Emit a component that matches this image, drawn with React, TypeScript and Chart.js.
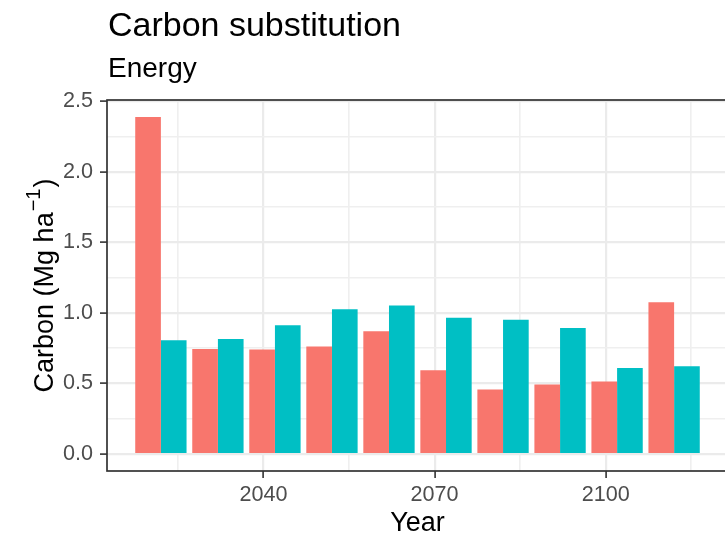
import React, { useEffect, useRef } from "react";
import { Chart, registerables } from "chart.js";

Chart.register(...registerables);

// ---- data ----
const years = [2022, 2032, 2042, 2052, 2062, 2072, 2082, 2092, 2102, 2112];
const seriesA = [2.39, 0.745, 0.742, 0.763, 0.87, 0.594, 0.458, 0.493, 0.514, 1.077];
const seriesB = [0.807, 0.815, 0.914, 1.027, 1.053, 0.967, 0.953, 0.894, 0.61, 0.622];
const seriesNames = ["Series A", "Series B"];
const yMajorTicks = [0, 0.5, 1, 1.5, 2, 2.5];
const yMinorTicks = [0.25, 0.75, 1.25, 1.75, 2.25];
const xMajorTicks = [2040, 2070, 2100];
const xMinorTicks = [2025, 2055, 2085, 2115];
const titleText = "Carbon substitution";
const subtitleText = "Energy";
const xTitle = "Year";
const yTitleMain = "Carbon (Mg ha";
const yTitleSup = "\u22121";
const yTitleEnd = ")";

const FONT = '"Liberation Sans", Arial, Helvetica, sans-serif';
const RED = "#F8766D";
const TEAL = "#00BFC4";

const isIn = (arr: number[], v: number) => arr.some((a) => Math.abs(a - v) < 1e-6);

const decor = {
  id: "decor",
  afterDraw(chart: any) {
    const { ctx, chartArea } = chart;
    const { left, top, right, bottom } = chartArea;
    ctx.save();
    // panel border
    ctx.strokeStyle = "#333333";
    ctx.lineWidth = 1.7;
    ctx.strokeRect(left, top, right - left, bottom - top);
    // title & subtitle
    ctx.fillStyle = "#000000";
    ctx.textBaseline = "alphabetic";
    ctx.textAlign = "left";
    ctx.font = `34px ${FONT}`;
    ctx.fillText(titleText, left + 1, 36);
    ctx.font = `28px ${FONT}`;
    ctx.fillText(subtitleText, left + 1, 77);
    // y-axis title with superscript
    const mainFont = `27px ${FONT}`;
    const supFont = `20px ${FONT}`;
    ctx.font = mainFont;
    const w1 = ctx.measureText(yTitleMain).width;
    const w3 = ctx.measureText(yTitleEnd).width;
    ctx.font = supFont;
    const w2 = ctx.measureText(yTitleSup).width;
    const total = w1 + w2 + w3 + 2;
    const cy = (top + bottom) / 2;
    ctx.translate(53, cy);
    ctx.rotate(-Math.PI / 2);
    let x = -total / 2;
    ctx.font = mainFont;
    ctx.fillText(yTitleMain, x, 0);
    x += w1 + 1;
    ctx.font = supFont;
    ctx.fillText(yTitleSup, x, -13);
    x += w2 + 1;
    ctx.font = mainFont;
    ctx.fillText(yTitleEnd, x, 0);
    ctx.restore();
  },
};

export default function App() {
  const ref = useRef<HTMLCanvasElement | null>(null);

  useEffect(() => {
    if (!ref.current) return;
    const chart = new Chart(ref.current, {
      type: "bar",
      data: {
        datasets: [
          {
            label: seriesNames[0],
            data: years.map((y, i) => ({ x: y, y: seriesA[i] })),
            backgroundColor: RED,
            borderWidth: 0,
            barPercentage: 1,
            categoryPercentage: 0.9,
          },
          {
            label: seriesNames[1],
            data: years.map((y, i) => ({ x: y, y: seriesB[i] })),
            backgroundColor: TEAL,
            borderWidth: 0,
            barPercentage: 1,
            categoryPercentage: 0.9,
          },
        ],
      },
      options: {
        responsive: false,
        animation: false,
        devicePixelRatio: 1,
        layout: { padding: { left: 0, top: 100, right: 7, bottom: 0 } },
        plugins: {
          legend: { display: false },
          tooltip: { enabled: false },
          title: { display: false },
        },
        scales: {
          x: {
            type: "linear",
            offset: false,
            min: 2012.55,
            max: 2121.45,
            afterBuildTicks: (axis: any) => {
              axis.ticks = [...xMinorTicks, ...xMajorTicks]
                .sort((a, b) => a - b)
                .map((v) => ({ value: v }));
            },
            afterFit: (s: any) => {
              s.height = 69;
            },
            border: { display: false },
            grid: {
              offset: false,
              color: (c: any) => (isIn(xMajorTicks, c.tick?.value) ? "#EBEBEB" : "#EFEFEF"),
              lineWidth: (c: any) => (isIn(xMajorTicks, c.tick?.value) ? 2.2 : 1.6),
              tickColor: (c: any) => (isIn(xMajorTicks, c.tick?.value) ? "#333333" : "rgba(0,0,0,0)"),
              tickLength: 7,
              tickWidth: 1.6,
              drawTicks: true,
            },
            ticks: {
              autoSkip: false,
              maxRotation: 0,
              minRotation: 0,
              padding: 4,
              color: "#4D4D4D",
              font: { family: FONT, size: 21.6 },
              callback: (v: any) => (isIn(xMajorTicks, Number(v)) ? String(v) : ""),
            },
            title: {
              display: true,
              text: xTitle,
              color: "#000000",
              font: { family: FONT, size: 27 },
              padding: { top: 0, bottom: 0 },
            },
          },
          y: {
            type: "linear",
            min: -0.12,
            max: 2.51,
            afterBuildTicks: (axis: any) => {
              axis.ticks = [...yMajorTicks, ...yMinorTicks]
                .sort((a, b) => a - b)
                .map((v) => ({ value: v }));
            },
            afterFit: (s: any) => {
              s.width = 107;
            },
            border: { display: false },
            grid: {
              color: (c: any) => (isIn(yMajorTicks, c.tick?.value) ? "#EBEBEB" : "#EFEFEF"),
              lineWidth: (c: any) => (isIn(yMajorTicks, c.tick?.value) ? 2.2 : 1.6),
              tickColor: (c: any) => (isIn(yMajorTicks, c.tick?.value) ? "#333333" : "rgba(0,0,0,0)"),
              tickLength: 7,
              tickWidth: 1.6,
            },
            ticks: {
              autoSkip: false,
              padding: 7,
              color: "#4D4D4D",
              font: { family: FONT, size: 21.6 },
              callback: (v: any) => (isIn(yMajorTicks, Number(v)) ? Number(v).toFixed(1) : ""),
            },
            title: { display: false },
          },
        },
      },
      plugins: [decor],
    } as any);
    return () => chart.destroy();
  }, []);

  return (
    <div
      style={{
        position: "fixed",
        left: 0,
        top: 0,
        width: 725,
        height: 540,
        overflow: "hidden",
        background: "#ffffff",
      }}
    >
      <canvas ref={ref} width={735} height={540} style={{ width: 735, height: 540, display: "block" }} />
    </div>
  );
}
